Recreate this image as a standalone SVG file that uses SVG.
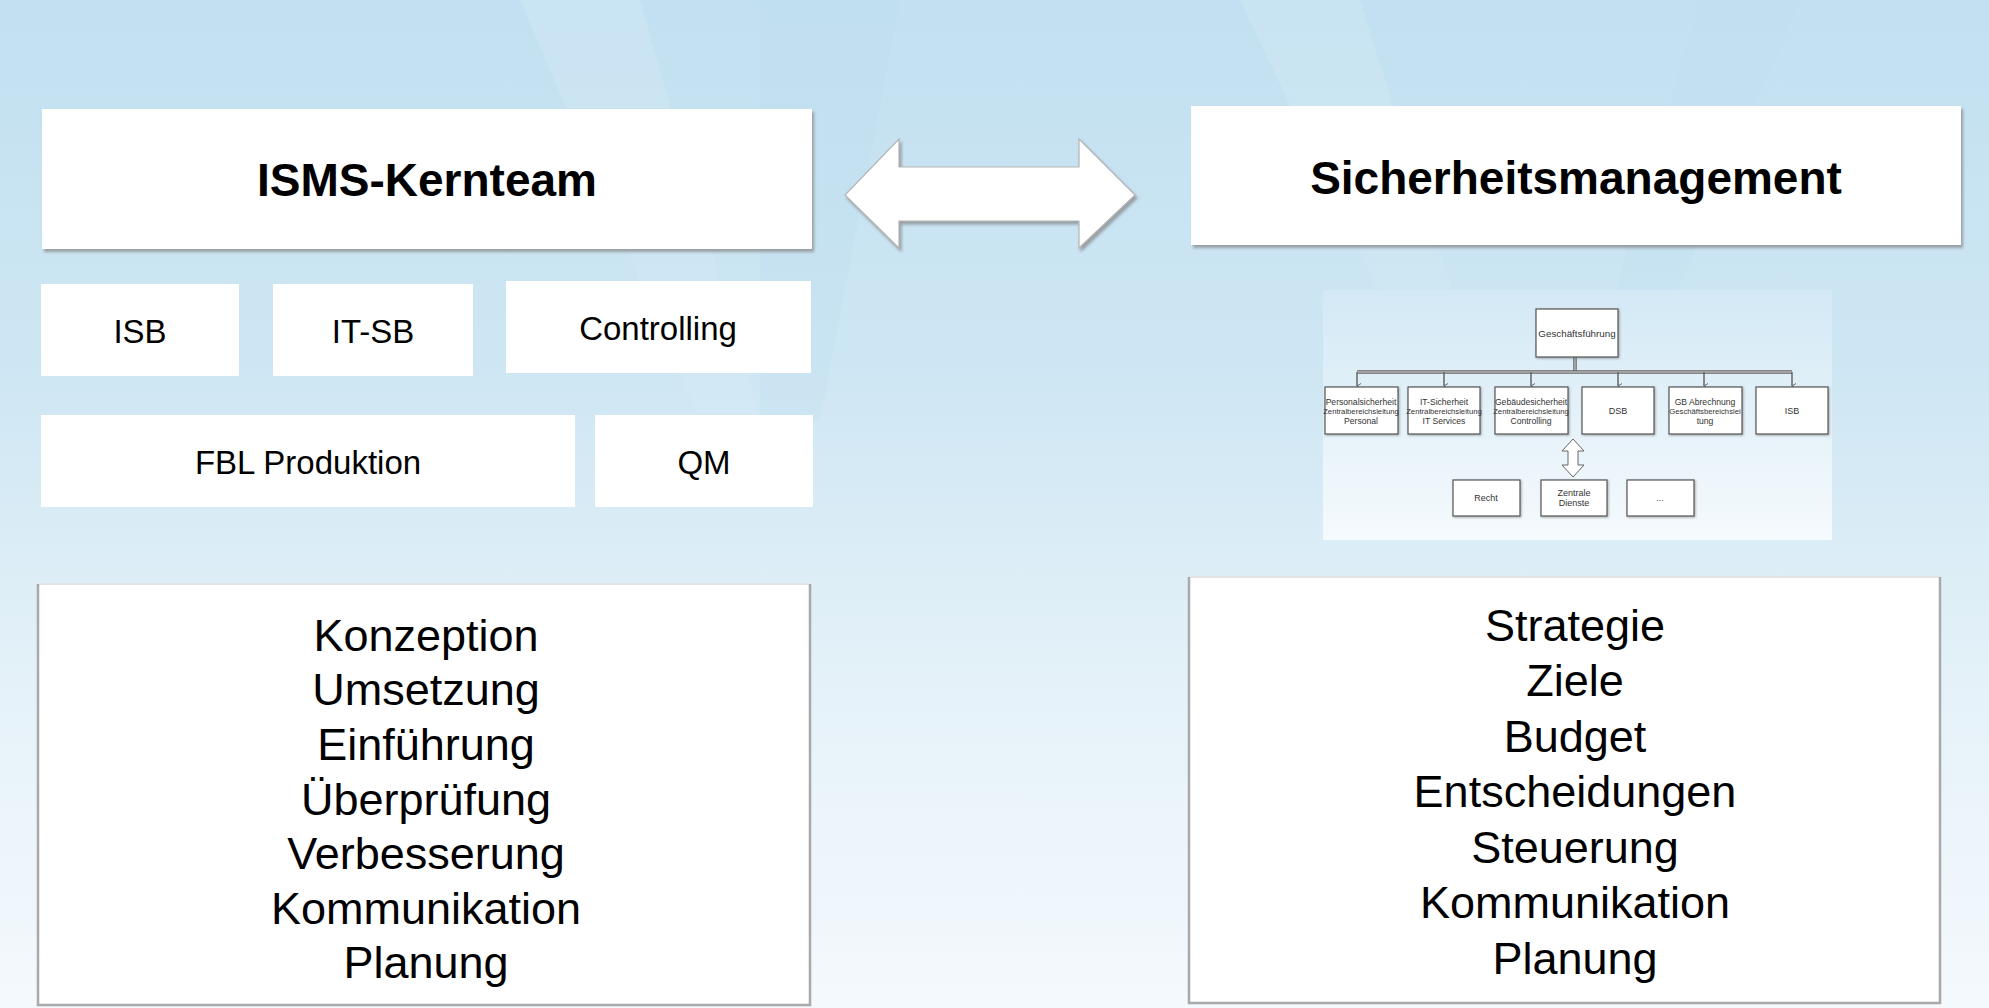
<svg xmlns="http://www.w3.org/2000/svg" width="1989" height="1008" viewBox="0 0 1989 1008">
<defs>
<linearGradient id="bg" x1="0" y1="0" x2="0" y2="1">
<stop offset="0" stop-color="#c2e0f1"/>
<stop offset="0.35" stop-color="#cde6f3"/>
<stop offset="0.7" stop-color="#e6f2f9"/>
<stop offset="1" stop-color="#f4f9fd"/>
</linearGradient>
<linearGradient id="orgbg" x1="0" y1="0" x2="0" y2="1">
<stop offset="0" stop-color="#d3e9f5"/>
<stop offset="1" stop-color="#f5fafd"/>
</linearGradient>
<filter id="sh" x="-5%" y="-5%" width="110%" height="115%">
<feDropShadow dx="2" dy="3" stdDeviation="1.5" flood-color="#808080" flood-opacity="0.7"/>
</filter>
<filter id="osh" x="-10%" y="-10%" width="125%" height="130%">
<feDropShadow dx="1" dy="1" stdDeviation="0.8" flood-color="#606060" flood-opacity="0.5"/>
</filter>
<marker id="dn" markerWidth="6" markerHeight="6" refX="3" refY="5" orient="auto" markerUnits="userSpaceOnUse">
<path d="M0.5,1 L3,5 L5.5,1" fill="none" stroke="#666" stroke-width="1"/>
</marker>
<style>
.box{fill:#ffffff}
.big{fill:#ffffff;filter:url(#sh)}
.title{font-family:"Liberation Sans",Arial,sans-serif;font-weight:bold;font-size:46px;fill:#000;text-anchor:middle}
.body{font-family:"Liberation Sans",Arial,sans-serif;font-size:45px;fill:#000;text-anchor:middle}
.small{font-family:"Liberation Sans",Arial,sans-serif;font-size:33px;fill:#000;text-anchor:middle}
.ob{fill:#ffffff;stroke:#555;stroke-width:1.2;filter:url(#osh)}
.ot{font-family:"Liberation Sans",Arial,sans-serif;font-size:8.6px;fill:#333;text-anchor:middle}
.om{font-family:"Liberation Sans",Arial,sans-serif;font-size:7.7px;fill:#333;text-anchor:middle}
.edge{stroke:#a9a9a9;stroke-width:2.5;fill:none}
.topedge{stroke:#e4e4e4;stroke-width:2;fill:none}
</style>
</defs>
<rect x="0" y="0" width="1989" height="1008" fill="url(#bg)"/>
<polygon points="520,0 640,0 760,420 700,420" fill="#d6ebf6" opacity="0.35"/>
<polygon points="760,0 900,0 820,420 760,420" fill="#bcdcef" opacity="0.25"/>
<polygon points="1240,0 1360,0 1480,380 1420,380" fill="#d6ebf6" opacity="0.3"/>
<polygon points="1700,0 1800,0 1640,380 1590,380" fill="#bcdcef" opacity="0.2"/>

<g id="connectors">
<polygon points="845,195 899,139 899,167 1079,167 1079,139 1135,195 1079,248 1079,221 899,221 899,248" fill="#ffffff" stroke="#b5b5b5" stroke-width="1.2" filter="url(#sh)"/>
</g>

<g id="isms-kernteam">
<rect class="big" x="42" y="109" width="770" height="140"/>
<text class="title" x="427" y="196">ISMS-Kernteam</text>
</g>
<g id="sicherheitsmanagement">
<rect class="big" x="1191" y="106" width="770" height="139"/>
<text class="title" x="1576" y="194">Sicherheitsmanagement</text>
</g>

<g id="isb">
<rect class="box" x="41" y="284" width="198" height="92"/>
<text class="small" x="140" y="343">ISB</text>
</g>
<g id="it-sb">
<rect class="box" x="273" y="284" width="200" height="92"/>
<text class="small" x="373" y="343">IT-SB</text>
</g>
<g id="controlling">
<rect class="box" x="506" y="281" width="305" height="92"/>
<text class="small" x="658" y="340">Controlling</text>
</g>
<g id="fbl-produktion">
<rect class="box" x="41" y="415" width="534" height="92"/>
<text class="small" x="308" y="474">FBL Produktion</text>
</g>
<g id="qm">
<rect class="box" x="595" y="415" width="218" height="92"/>
<text class="small" x="704" y="474">QM</text>
</g>

<g id="aufgaben-kernteam">
<rect class="box" x="38" y="584" width="772" height="421"/>
<path class="topedge" d="M38,584 H810"/>
<path class="edge" d="M38,584 V1005 H810 V584"/>
<text class="body" x="426" y="651">Konzeption</text>
<text class="body" x="426" y="705">Umsetzung</text>
<text class="body" x="426" y="760">Einführung</text>
<text class="body" x="426" y="815">Überprüfung</text>
<text class="body" x="426" y="869">Verbesserung</text>
<text class="body" x="426" y="924">Kommunikation</text>
<text class="body" x="426" y="978">Planung</text>
</g>

<g id="aufgaben-management">
<rect class="box" x="1189" y="577" width="751" height="426"/>
<path class="topedge" d="M1189,577 H1940"/>
<path class="edge" d="M1189,577 V1003 H1940 V577"/>
<text class="body" x="1575" y="641">Strategie</text>
<text class="body" x="1575" y="696">Ziele</text>
<text class="body" x="1575" y="752">Budget</text>
<text class="body" x="1575" y="807">Entscheidungen</text>
<text class="body" x="1575" y="863">Steuerung</text>
<text class="body" x="1575" y="918">Kommunikation</text>
<text class="body" x="1575" y="974">Planung</text>
</g>

<g id="organigramm">
<rect x="1323" y="290" width="509" height="250" fill="url(#orgbg)"/>
<g id="org-connectors" fill="none">
<line x1="1575" y1="357" x2="1575" y2="372" stroke="#666" stroke-width="3.5"/>
<line x1="1575" y1="357" x2="1575" y2="372" stroke="#ddd" stroke-width="1"/>
<line x1="1357" y1="372" x2="1792" y2="372" stroke="#666" stroke-width="3.5"/>
<line x1="1357" y1="372" x2="1792" y2="372" stroke="#ddd" stroke-width="1"/>
<line x1="1357" y1="372" x2="1357" y2="386" stroke="#666" stroke-width="1.5" marker-end="url(#dn)"/>
<line x1="1444" y1="372" x2="1444" y2="386" stroke="#666" stroke-width="1.5" marker-end="url(#dn)"/>
<line x1="1531" y1="372" x2="1531" y2="386" stroke="#666" stroke-width="1.5" marker-end="url(#dn)"/>
<line x1="1618" y1="372" x2="1618" y2="386" stroke="#666" stroke-width="1.5" marker-end="url(#dn)"/>
<line x1="1704" y1="372" x2="1704" y2="386" stroke="#666" stroke-width="1.5" marker-end="url(#dn)"/>
<line x1="1792" y1="372" x2="1792" y2="386" stroke="#666" stroke-width="1.5" marker-end="url(#dn)"/>
<polygon points="1573,439 1584,451 1578,451 1578,465 1584,465 1573,477 1562,465 1568,465 1568,451 1562,451" fill="#ffffff" stroke="#666" stroke-width="1"/>
</g>
<g id="org-gf"><rect class="ob" x="1536" y="309" width="82" height="48"/><text class="ot" x="1577" y="337" style="font-size:9.8px">Geschäftsführung</text></g>
<g id="org-personal"><rect class="ob" x="1325" y="387" width="73" height="47"/><text class="ot" x="1361" y="405">Personalsicherheit</text><text class="om" x="1361" y="414">Zentralbereichsleitung</text><text class="ot" x="1361" y="424">Personal</text></g>
<g id="org-it"><rect class="ob" x="1408" y="387" width="72" height="47"/><text class="ot" x="1444" y="405">IT-Sicherheit</text><text class="om" x="1444" y="414">Zentralbereichsleitung</text><text class="ot" x="1444" y="424">IT Services</text></g>
<g id="org-gebaeude"><rect class="ob" x="1495" y="387" width="73" height="47"/><text class="ot" x="1531" y="405">Gebäudesicherheit</text><text class="om" x="1531" y="414">Zentralbereichsleitung</text><text class="ot" x="1531" y="424">Controlling</text></g>
<g id="org-dsb"><rect class="ob" x="1582" y="387" width="72" height="47"/><text class="ot" x="1618" y="414" style="font-size:9px">DSB</text></g>
<g id="org-gb"><rect class="ob" x="1669" y="387" width="73" height="47"/><text class="ot" x="1705" y="405">GB Abrechnung</text><text class="om" x="1705" y="414">Geschäftsbereichslei</text><text class="ot" x="1705" y="424">tung</text></g>
<g id="org-isb"><rect class="ob" x="1756" y="387" width="72" height="47"/><text class="ot" x="1792" y="414" style="font-size:9px">ISB</text></g>
<g id="org-recht"><rect class="ob" x="1453" y="480" width="67" height="36"/><text class="ot" x="1486" y="501" style="font-size:9px">Recht</text></g>
<g id="org-zentrale"><rect class="ob" x="1541" y="480" width="66" height="36"/><text class="ot" x="1574" y="496" style="font-size:9px">Zentrale</text><text class="ot" x="1574" y="506" style="font-size:9px">Dienste</text></g>
<g id="org-weitere"><rect class="ob" x="1627" y="480" width="67" height="36"/><text class="ot" x="1660" y="501">...</text></g>
</g>
</svg>
